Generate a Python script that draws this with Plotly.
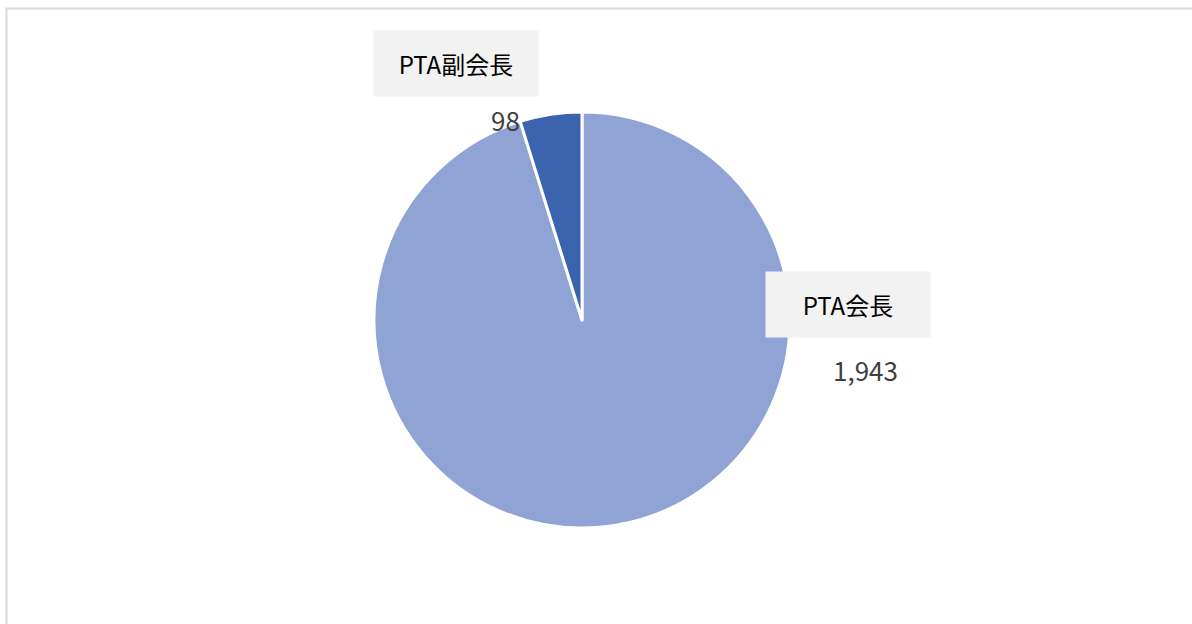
import plotly.graph_objects as go

labels = ["PTA会長", "PTA副会長"]
values = [1943, 98]
colors = ["#8FA4D4", "#3B63AE"]

W, H = 1192, 624

fig = go.Figure(go.Pie(
    labels=labels, values=values, sort=False, direction="clockwise", rotation=0,
    marker=dict(colors=colors, line=dict(color="white", width=3)),
    textinfo="none", hoverinfo="label+value",
    domain=dict(x=[374 / W, 790 / W], y=[1 - 528 / H, 1 - 112 / H]),
    showlegend=False,
))

# label boxes and value texts (positions in pixels)
label_pos = {"PTA会長": (848, 304), "PTA副会長": (456, 64)}
value_pos = {"PTA会長": (865, 369), "PTA副会長": (505, 119)}

for lab, val in zip(labels, values):
    lx, ly = label_pos[lab]
    fig.add_annotation(x=lx / W, y=1 - ly / H, xref="paper", yref="paper",
                       text=lab, showarrow=False, xanchor="center", yanchor="middle",
                       bgcolor="#F2F2F2", width=162, height=63,
                       font=dict(family="Noto Sans CJK JP", size=24, color="#000000"))
    vx, vy = value_pos[lab]
    fig.add_annotation(x=vx / W, y=1 - vy / H, xref="paper", yref="paper",
                       text=f"{val:,}", showarrow=False, xanchor="center", yanchor="middle",
                       font=dict(family="Noto Sans CJK JP", size=26, color="#404040"))

fig.add_shape(type="rect", xref="paper", yref="paper",
              x0=6.5 / W, x1=1.05, y0=-0.05, y1=1 - 8.5 / H,
              line=dict(color="#D9D9D9", width=2), fillcolor="rgba(0,0,0,0)")

fig.update_layout(width=W, height=H, margin=dict(l=0, r=0, t=0, b=0),
                  paper_bgcolor="white", plot_bgcolor="white")

fig.write_html("out.html", config={"displayModeBar": False},
               post_script="document.body.style.margin='0';")
